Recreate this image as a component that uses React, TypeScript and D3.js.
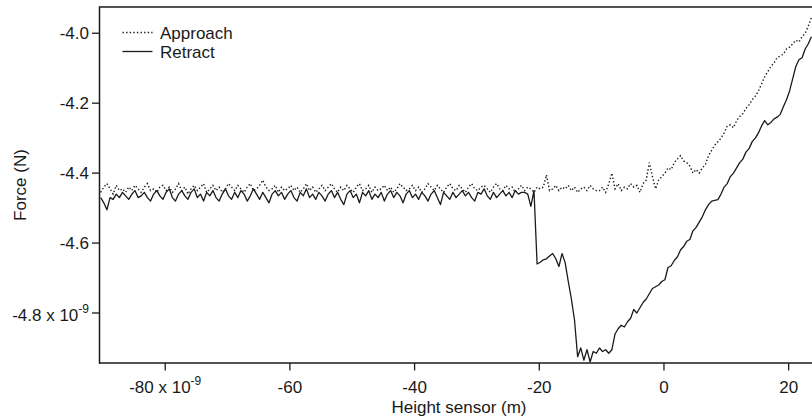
import React from "react";
import * as d3 from "d3";

// Height sensor grid (x 10^-9 m): first sample and spacing
const heightStart = -90.35;
const heightStep = 0.5;

// Force (x 10^-9 N), approach curve
const approachForce = [
  -4.455, -4.44, -4.43, -4.445, -4.46, -4.435, -4.45, -4.445, -4.455, -4.44,
  -4.45, -4.435, -4.445, -4.455, -4.44, -4.43, -4.45, -4.445, -4.455, -4.44,
  -4.435, -4.45, -4.44, -4.455, -4.445, -4.43, -4.45, -4.44, -4.46, -4.445,
  -4.435, -4.45, -4.44, -4.43, -4.455, -4.445, -4.435, -4.45, -4.44, -4.455,
  -4.445, -4.43, -4.44, -4.45, -4.435, -4.445, -4.455, -4.44, -4.43, -4.45,
  -4.445, -4.435, -4.42, -4.44, -4.45, -4.445, -4.435, -4.455, -4.44, -4.45,
  -4.445, -4.435, -4.45, -4.44, -4.455, -4.445, -4.43, -4.45, -4.44, -4.455,
  -4.445, -4.435, -4.45, -4.44, -4.43, -4.445, -4.455, -4.44, -4.45, -4.435,
  -4.445, -4.455, -4.44, -4.43, -4.45, -4.445, -4.435, -4.455, -4.44, -4.45,
  -4.445, -4.435, -4.45, -4.44, -4.455, -4.445, -4.43, -4.44, -4.45, -4.445,
  -4.435, -4.45, -4.44, -4.455, -4.445, -4.43, -4.44, -4.45, -4.435, -4.445,
  -4.455, -4.44, -4.43, -4.445, -4.45, -4.435, -4.445, -4.455, -4.44, -4.43,
  -4.445, -4.45, -4.44, -4.435, -4.445, -4.455, -4.44, -4.43, -4.445, -4.45,
  -4.435, -4.445, -4.44, -4.455, -4.445, -4.435, -4.45, -4.44, -4.445, -4.455,
  -4.44, -4.445, -4.44, -4.405, -4.45, -4.445, -4.435, -4.45, -4.44, -4.445,
  -4.435, -4.45, -4.44, -4.455, -4.445, -4.44, -4.45, -4.435, -4.445, -4.45,
  -4.45, -4.44, -4.455, -4.43, -4.40, -4.445, -4.43, -4.45, -4.44, -4.445,
  -4.43, -4.44, -4.435, -4.455, -4.43, -4.42, -4.37, -4.41, -4.445, -4.42,
  -4.41, -4.40, -4.385, -4.39, -4.37, -4.36, -4.35, -4.365, -4.37, -4.38,
  -4.40, -4.39, -4.40, -4.385, -4.375, -4.35, -4.335, -4.32, -4.31, -4.30,
  -4.285, -4.265, -4.262, -4.27, -4.25, -4.238, -4.23, -4.215, -4.205, -4.19,
  -4.18, -4.165, -4.145, -4.125, -4.11, -4.095, -4.085, -4.07, -4.065, -4.06,
  -4.045, -4.04, -4.03, -4.02, -4.025, -4.01, -4.0, -3.98, -3.955,
];

// Force (x 10^-9 N), retract curve
const retractForce = [
  -4.47, -4.485, -4.505, -4.47, -4.475, -4.46, -4.47, -4.455, -4.465, -4.475,
  -4.46, -4.45, -4.47, -4.465, -4.455, -4.47, -4.48, -4.46, -4.45, -4.465,
  -4.475, -4.455, -4.445, -4.47, -4.48, -4.46, -4.45, -4.465, -4.475, -4.455,
  -4.445, -4.47, -4.46, -4.48, -4.455, -4.465, -4.45, -4.47, -4.48, -4.46,
  -4.445, -4.465, -4.475, -4.455, -4.47, -4.45, -4.46, -4.48, -4.465, -4.445,
  -4.46, -4.475, -4.455, -4.47, -4.485, -4.46, -4.45, -4.465, -4.455, -4.475,
  -4.46, -4.45, -4.47, -4.48, -4.455, -4.465, -4.445, -4.47, -4.46, -4.475,
  -4.455, -4.465, -4.48, -4.46, -4.45, -4.47, -4.455, -4.475, -4.49, -4.46,
  -4.45, -4.47, -4.46, -4.485, -4.455, -4.465, -4.45, -4.475, -4.46, -4.47,
  -4.455, -4.48, -4.46, -4.45, -4.47, -4.455, -4.465, -4.485, -4.46, -4.45,
  -4.47, -4.46, -4.475, -4.455, -4.465, -4.48, -4.46, -4.45, -4.47, -4.49,
  -4.455, -4.465, -4.475, -4.455, -4.47, -4.46, -4.45, -4.465, -4.455, -4.47,
  -4.48, -4.455, -4.46, -4.445, -4.465, -4.475, -4.455, -4.47, -4.46, -4.45,
  -4.465, -4.455, -4.47, -4.45, -4.46, -4.455, -4.455, -4.46, -4.495, -4.45,
  -4.66, -4.655, -4.648, -4.645, -4.637, -4.63, -4.645, -4.667, -4.63, -4.656,
  -4.71, -4.76, -4.82, -4.925, -4.90, -4.935, -4.905, -4.94, -4.91, -4.915,
  -4.90, -4.91, -4.905, -4.915, -4.905, -4.86, -4.845, -4.835, -4.84, -4.825,
  -4.815, -4.79, -4.80, -4.785, -4.77, -4.76, -4.745, -4.73, -4.725, -4.72,
  -4.71, -4.705, -4.67, -4.665, -4.65, -4.64, -4.62, -4.61, -4.595, -4.59,
  -4.565, -4.555, -4.54, -4.525, -4.505, -4.49, -4.48, -4.478, -4.476, -4.46,
  -4.44, -4.43, -4.41, -4.40, -4.385, -4.37, -4.36, -4.34, -4.33, -4.31,
  -4.30, -4.285, -4.265, -4.25, -4.262, -4.255, -4.245, -4.24, -4.232, -4.21,
  -4.19, -4.165, -4.13, -4.095, -4.076, -4.07, -4.045, -4.03, -4.01,
];

const xTicks = [-80, -60, -40, -20, 0, 20];
const yTicks = [-4.0, -4.2, -4.4, -4.6, -4.8];
const xDomain = [-90.54, 24.0];
const yDomain = [-4.943, -3.925];

const W = 812;
const H = 416;
const L = 99.5;
const R = 813.6;
const T = 7;
const B = 363;
const FONT = "'Liberation Sans', Arial, Helvetica, sans-serif";
const INK = "#1a1a1a";

export default function App() {
  const x = d3.scaleLinear().domain(xDomain).range([L, R]);
  const y = d3.scaleLinear().domain(yDomain).range([B, T]);
  const toPts = (arr: number[]) => arr.map((v, i) => [heightStart + i * heightStep, v] as [number, number]);
  const line = d3
    .line<[number, number]>()
    .x((d) => x(d[0]))
    .y((d) => y(d[1]));

  const approachPath = line(toPts(approachForce)) || "";
  const retractPath = line(toPts(retractForce)) || "";

  return (
    <svg width={W} height={H} style={{ position: "absolute", left: 0, top: 0, background: "#fff" }} fontFamily={FONT}>
      <defs>
        <clipPath id="plotClip">
          <rect x={L} y={T} width={R - L} height={B - T} />
        </clipPath>
      </defs>
      <rect x={0} y={0} width={W} height={H} fill="#fff" />

      <g clipPath="url(#plotClip)">
        <path d={approachPath} fill="none" stroke={INK} strokeWidth={1.4} strokeDasharray="1.4,2.2" />
        <path d={retractPath} fill="none" stroke={INK} strokeWidth={1.3} strokeLinejoin="round" />
      </g>

      {/* frame */}
      <line x1={L} x2={W} y1={T} y2={T} stroke={INK} strokeWidth={1.5} />
      <line x1={L} x2={L} y1={T - 0.75} y2={B + 0.75} stroke={INK} strokeWidth={1.5} />
      <line x1={L} x2={W} y1={B} y2={B} stroke={INK} strokeWidth={1.5} />

      {/* y ticks */}
      {yTicks.map((t, i) => (
        <g key={"y" + t}>
          <line x1={L - 7.5} x2={L} y1={y(t)} y2={y(t)} stroke={INK} strokeWidth={1.3} />
          {i === yTicks.length - 1 ? (
            <text x={89} y={y(t) + 8.5} textAnchor="end" fontSize={17} fill={INK}>
              {d3.format(".1f")(t).replace("−", "-")} x 10
              <tspan dy={-8} fontSize={12}>-9</tspan>
            </text>
          ) : (
            <text x={89} y={y(t) + 6} textAnchor="end" fontSize={17} fill={INK}>
              {d3.format(".1f")(t).replace("−", "-")}
            </text>
          )}
        </g>
      ))}

      {/* x ticks */}
      {xTicks.map((t, i) => (
        <g key={"x" + t}>
          <line x1={x(t)} x2={x(t)} y1={B} y2={B + 7.5} stroke={INK} strokeWidth={1.3} />
          {i === 0 ? (
            <text x={x(t)} y={393} textAnchor="middle" fontSize={17} fill={INK}>
              {String(t).replace("−", "-")} x 10
              <tspan dy={-8} fontSize={12}>-9</tspan>
            </text>
          ) : (
            <text x={x(t)} y={393} textAnchor="middle" fontSize={17} fill={INK}>
              {String(t).replace("−", "-")}
            </text>
          )}
        </g>
      ))}

      {/* axis titles */}
      <text x={459} y={413} textAnchor="middle" fontSize={17} fill={INK}>
        Height sensor (m)
      </text>
      <text transform={`translate(26,${(T + B) / 2}) rotate(-90)`} textAnchor="middle" fontSize={17} fill={INK}>
        Force (N)
      </text>

      {/* legend */}
      <line x1={122.5} x2={152.5} y1={32.5} y2={32.5} stroke={INK} strokeWidth={1.4} strokeDasharray="1.4,2.2" />
      <text x={160} y={38.5} fontSize={17} fill={INK}>Approach</text>
      <line x1={122.5} x2={152.5} y1={51.5} y2={51.5} stroke={INK} strokeWidth={1.3} />
      <text x={160} y={57.5} fontSize={17} fill={INK}>Retract</text>
    </svg>
  );
}
